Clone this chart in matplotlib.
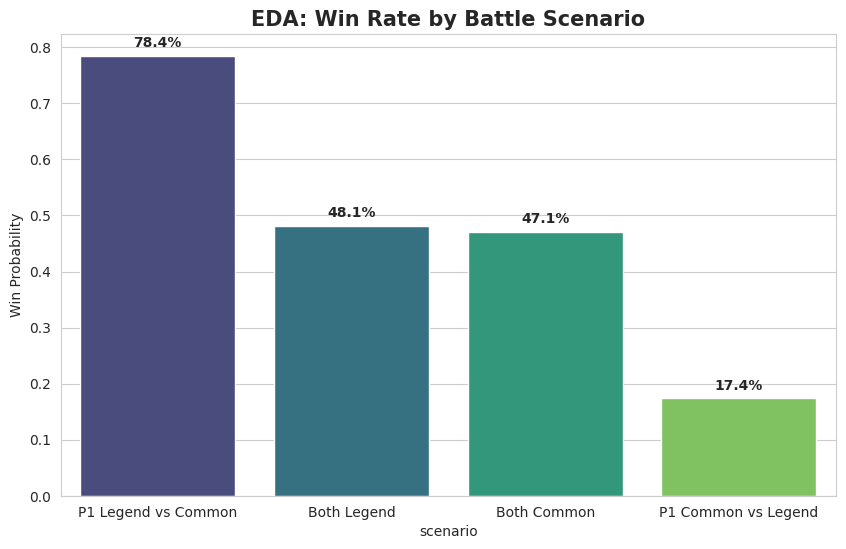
import numpy as np
import pandas as pd
import seaborn as sns
import matplotlib
matplotlib.use('Agg')
from matplotlib import pyplot as plt

scenarios = ['P1 Legend vs Common', 'Both Legend', 'Both Common', 'P1 Common vs Legend']
win_rates = [0.784, 0.481, 0.471, 0.174]

df = pd.DataFrame({'scenario': scenarios, 'win_rate': win_rates})

sns.set_style('whitegrid')
fig = plt.figure(figsize=(8.46, 5.49), dpi=100)
ax = fig.add_axes([0.072, 0.0965, 0.916, 0.8415])

sns.barplot(data=df, x='scenario', y='win_rate', hue='scenario',
            palette='viridis', legend=False, ax=ax)

# labels on top of bars
for i, v in enumerate(win_rates):
    ax.text(i, v + 0.01, f'{v*100:.1f}%', ha='center', va='bottom',
            fontweight='bold', fontsize=10)

ax.set_title('EDA: Win Rate by Battle Scenario', fontsize=15, fontweight='bold')
ax.set_ylabel('Win Probability')
ax.set_xlabel('scenario')

fig.savefig('out.png', dpi=100)
